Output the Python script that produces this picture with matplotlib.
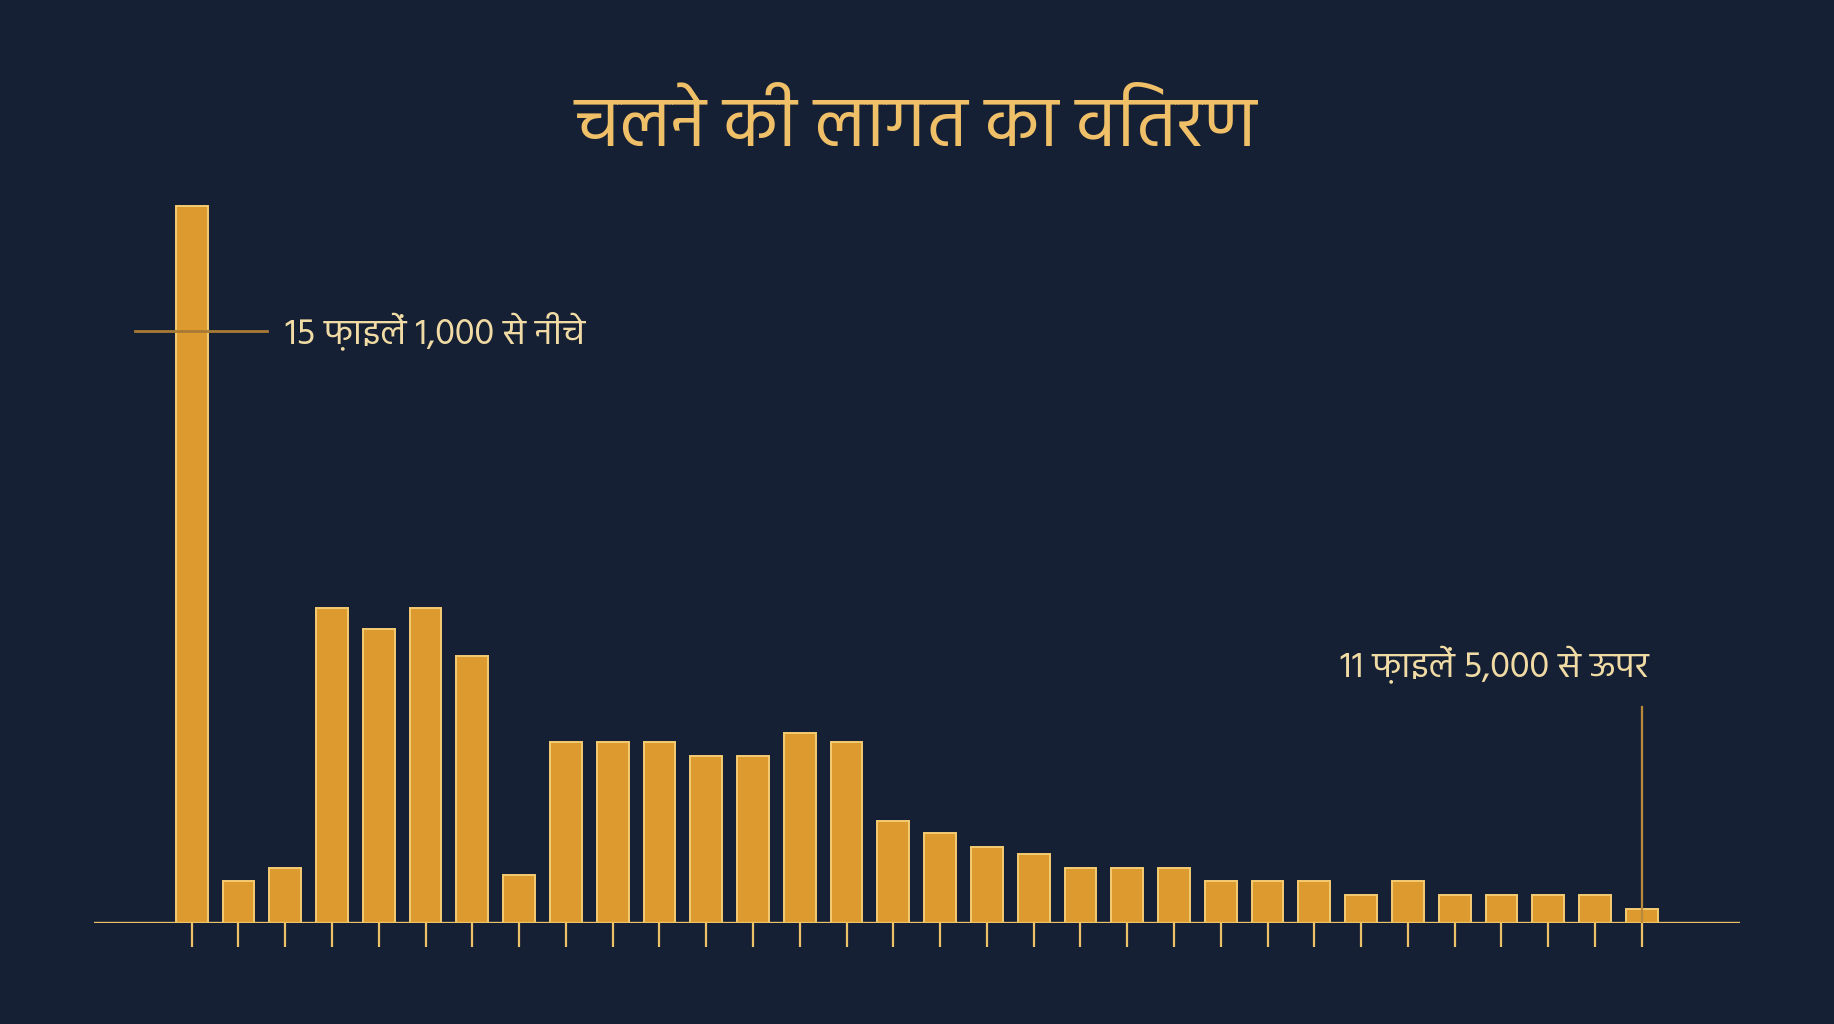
import matplotlib
matplotlib.use("Agg")
import matplotlib.pyplot as plt

# bar heights (one value per cost bucket)
counts = [51.2, 3, 3.9, 22.5, 21, 22.5, 19.1, 3.4, 12.9, 12.9, 12.9, 11.9, 11.9, 13.6,
          12.9, 7.3, 6.4, 5.4, 4.9, 3.9, 3.9, 3.9, 3, 3, 3, 2, 3, 2, 2, 2, 2, 1]
buckets = list(range(len(counts)))

title = "चलने की लागत का वितरण"
note_low = "15 फ़ाइलें 1,000 से नीचे"
note_high = "11 फ़ाइलें 5,000 से ऊपर"
low_mark_y = 42.3
high_mark_y = 15.45

bg = "#152034"
gold = "#dd9a2e"
gold_edge = "#f5cc72"
axis_col = "#ecc269"
text_col = "#f0dba4"

plt.rcParams["font.family"] = ["Hind", "DejaVu Sans"]

fig = plt.figure(figsize=(18.34, 10.24), dpi=100)
fig.patch.set_facecolor(bg)

# axes placed so the baseline and bars sit where the reference has them
ax = fig.add_axes([94 / 1834, 101 / 1024, 1646 / 1834, 773 / 1024])
ax.set_facecolor(bg)
ax.bar(buckets, counts, width=0.68, color=gold, edgecolor=gold_edge, linewidth=1.4, zorder=3)
ax.set_xlim(-2.089, 33.10)
ax.set_ylim(0, 55.2)

for s in ax.spines.values():
    s.set_visible(False)
ax.axhline(0, color=axis_col, lw=2.4, zorder=4)
ax.set_xticks(buckets)
ax.set_xticklabels([])
ax.set_yticks([])
ax.tick_params(axis="x", length=17, width=1.6, color=axis_col, direction="out")

# annotation: low end
ax.plot([-1.21, 1.61], [low_mark_y, low_mark_y], color="#a97a36", lw=2.0, zorder=5, clip_on=False)
ax.text(1.995, low_mark_y, note_low, color=text_col, fontsize=26, va="center", ha="left")

# annotation: high end
ax.plot([buckets[-1], buckets[-1]], [0, high_mark_y], color="#b98a3c", lw=1.6, zorder=5)
ax.text(31.14, 18.4, note_high, color=text_col, fontsize=26, va="center", ha="right")

fig.text(0.4995, 1 - 127 / 1024, title, color="#f0c069", fontsize=51, ha="center", va="center")

fig.savefig("out.png", facecolor=fig.get_facecolor())
